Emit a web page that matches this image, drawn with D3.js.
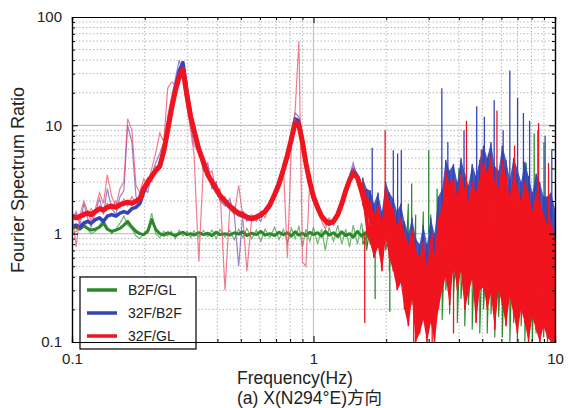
<!DOCTYPE html>
<html><head><meta charset="utf-8">
<script src="https://cdn.jsdelivr.net/npm/d3@7"></script>
<style>
body{margin:0;background:#fff;}
svg{display:block;}
text{font-family:"Liberation Sans",Arial,"Noto Sans CJK SC",sans-serif;fill:#222;}
</style>
</head><body>
<svg id="chart" width="568" height="408"></svg>
<script>
// ---------- DATA ----------
const seriesNames = ["B2F/GL", "32F/B2F", "32F/GL"];
const xTickValues = [0.1, 1, 10];
const xTickLabels = ["0.1", "1", "10"];
const yTickValues = [0.1, 1, 10, 100];
const yTickLabels = ["0.1", "1", "10", "100"];

// low-frequency region (smooth part)
const freqLo = [0.100,0.104,0.108,0.112,0.116,0.120,0.125,0.130,0.135,0.140,0.146,0.152,0.158,0.164,0.170,0.177,0.184,0.191,0.198,0.206,0.214,0.222,0.231,0.240,0.249,0.258,0.268,0.278,0.288,0.299,0.31,0.32,0.335,0.35,0.365,0.38,0.395,0.41,0.43,0.45,0.47,0.49,0.51,0.53,0.555,0.58,0.605,0.63,0.66,0.69,0.72,0.75,0.78,0.81,0.84,0.87,0.90,0.93,0.965,1.0,1.04,1.08,1.12,1.16,1.21,1.26,1.31,1.36,1.41,1.46,1.52,1.58,1.64,1.70];

const greenMain = [1.12,1.15,1.1,1.18,1.12,1.08,1.1,1.15,1.25,1.1,1.05,1.08,1.12,1.2,1.3,1.15,1.05,1.0,0.98,1.05,1.35,1.1,1.0,0.97,1.02,0.99,0.96,1.0,1.03,0.98,1.0,0.97,1.02,0.98,1.01,0.96,1.03,0.98,1.0,0.97,1.02,0.99,1.04,0.96,1.01,0.98,1.05,0.97,1.0,0.96,1.03,0.98,1.02,0.95,1.04,0.97,1.01,0.96,1.03,0.98,1.02,0.95,1.05,0.97,1.02,0.94,1.04,0.96,1.0,0.93,1.05,0.95,1.02,0.92];
const greenThin = [1.0,1.05,1.2,1.3,1.1,1.0,1.05,1.2,1.35,1.15,1.0,1.1,1.25,1.45,1.2,1.1,0.95,0.9,1.0,1.1,1.55,1.0,0.92,1.05,0.95,1.05,0.9,1.08,0.95,1.05,0.92,1.06,0.93,1.07,0.94,1.08,0.9,1.1,0.93,1.07,0.88,1.1,0.92,1.12,0.9,1.08,0.85,1.1,0.92,1.15,0.88,1.1,0.82,1.12,0.9,1.18,0.75,1.1,0.85,1.15,0.8,1.1,0.7,1.15,0.85,1.2,0.8,1.1,0.75,1.2,0.8,1.25,0.78,1.3];

const blueMain = [1.15,1.2,1.15,1.25,1.3,1.25,1.35,1.4,1.3,1.45,1.5,1.45,1.55,1.6,1.55,1.7,1.75,1.9,2.4,2.9,3.3,3.8,4.3,5.8,9,14,22,32,38,21,12.5,9,6.2,4.7,3.6,2.9,2.5,2.2,1.95,1.75,1.6,1.5,1.45,1.4,1.35,1.4,1.45,1.6,1.8,2.25,2.8,3.8,5.2,7.6,11.5,11,7.2,4.4,2.9,2.1,1.7,1.42,1.3,1.22,1.28,1.48,1.85,2.4,3.2,3.9,3.4,2.6,1.9,1.5];
const blueThin = [1.3,1.6,1.2,1.9,1.4,1.15,1.6,2.1,1.5,2.6,1.7,1.5,2.2,2.5,10,7,2.2,2.0,2.6,2.4,3.5,4.5,5.5,7,12,18,27,40,30,16,10,6.5,5.8,3.8,4.5,2.6,3.0,2.0,1.8,2.1,1.5,0.5,1.6,1.3,1.4,1.5,1.3,1.7,1.7,2.4,3.0,3.5,5.5,9,13,12,5.5,4.8,2.6,2.3,1.6,1.5,1.2,1.3,1.2,1.6,1.8,2.6,3.4,4.5,3.2,2.4,2.1,1.4];

const redMain = [1.45,1.4,1.45,1.5,1.55,1.5,1.6,1.7,1.65,1.75,1.8,1.75,1.85,1.9,1.95,1.9,2.0,2.1,2.6,3.0,3.4,3.8,4.2,5.8,9,14,21,28,33,19,12,9,6.0,4.6,3.5,3.0,2.6,2.25,2.0,1.8,1.65,1.55,1.5,1.42,1.38,1.42,1.5,1.6,1.85,2.3,2.9,3.9,5.3,7.5,10.5,10.0,7.0,4.5,3.0,2.2,1.75,1.45,1.32,1.25,1.3,1.5,1.9,2.5,3.1,3.6,3.3,2.5,1.8,1.4];
const redThin = [1.6,0.75,1.5,2.0,1.6,1.3,1.7,2.4,1.9,3.5,2.2,1.8,2.6,3.0,11.5,9,2.8,2.4,3.2,2.8,4.0,5.5,8.5,7.0,22,25,24,30,26,15,9,5.5,0.55,4.2,3.5,3.8,2.4,2.6,0.3,1.7,1.5,2.8,1.4,0.45,1.4,1.3,1.6,1.4,2.0,2.2,2.6,4.2,0.6,6.5,14,60,0.55,0.5,3.2,2.0,1.9,1.3,1.1,1.4,1.2,1.6,1.7,2.8,2.9,4.2,3.0,2.2,2.0,1.2];
const redThin2 = [1.3,1.5,1.35,1.6,1.45,1.7,1.5,1.8,1.6,1.9,1.7,2.0,1.75,2.1,1.8,2.2,1.9,2.3,2.8,3.3,3.0,4.2,4.0,6.5,8,16,18,31,30,22,13,10.5,6.8,4.2,3.9,2.7,2.9,2.1,2.2,1.7,1.8,1.45,1.6,1.35,1.5,1.35,1.6,1.5,2.0,2.1,3.2,3.6,5.8,7.0,11.5,9.0,7.8,4.0,3.3,2.0,1.9,1.35,1.4,1.2,1.35,1.4,2.0,2.3,3.3,3.4,3.5,2.3,1.9,1.3];

// high-frequency region (noisy part): upper / lower envelopes
const freqHi = [1.60,1.66,1.72,1.78,1.85,1.92,1.99,2.06,2.14,2.22,2.30,2.38,2.47,2.56,2.65,2.75,2.85,2.95,3.06,3.17,3.29,3.41,3.53,3.66,3.80,3.94,4.08,4.23,4.38,4.54,4.71,4.88,5.06,5.24,5.43,5.63,5.84,6.05,6.27,6.50,6.74,6.98,7.24,7.50,7.77,8.06,8.35,8.65,8.97,9.30,9.64,9.99];
const greenHi = [1.1,0.95,1.2,1.0,1.3,0.95,1.25,1.0,1.5,0.9,1.6,0.8,1.9,0.9,1.5,0.7,1.6,0.8,1.5,0.9,1.3,1.0,1.6,0.9,1.8,1.0,1.5,0.8,1.4,0.9,1.6,0.8,1.5,1.0,1.7,0.9,1.4,0.8,1.6,0.9,1.5,0.8,1.4,0.9,1.7,0.8,1.8,0.9,1.5,0.8,1.3,0.8];
const greenLo = [0.8,0.7,0.85,0.6,0.75,0.5,0.7,0.45,0.6,0.35,0.5,0.3,0.4,0.22,0.35,0.2,0.3,0.17,0.28,0.15,0.25,0.16,0.3,0.18,0.28,0.15,0.25,0.14,0.22,0.13,0.2,0.12,0.2,0.12,0.18,0.11,0.17,0.11,0.16,0.1,0.15,0.1,0.14,0.1,0.13,0.1,0.12,0.1,0.11,0.1,0.1,0.1];
const blueHi = [3.3,2.6,2.5,1.9,2.4,1.6,3.0,2.4,2.1,1.6,1.9,1.3,1.0,1.4,0.9,0.8,1.2,0.8,1.4,1.0,2.2,2.6,4.8,3.8,4.4,3.0,5.0,3.6,2.8,4.4,3.4,4.8,6.5,5.0,7.0,4.2,3.8,6.5,4.8,3.2,5.0,4.0,3.0,4.6,3.4,2.4,3.6,3.0,2.2,2.2,2.4,1.7];
const blueLo = [2.0,1.2,0.9,0.75,0.85,0.55,1.0,0.7,0.55,0.4,0.45,0.28,0.2,0.3,0.14,0.16,0.2,0.12,0.2,0.13,0.25,0.35,0.5,0.3,0.6,0.38,0.55,0.28,0.35,0.48,0.22,0.4,0.42,0.28,0.38,0.2,0.4,0.3,0.2,0.35,0.25,0.17,0.28,0.2,0.15,0.24,0.18,0.14,0.2,0.15,0.14,0.12];
const redHi = [3.0,2.2,2.0,1.5,1.8,1.3,2.6,2.0,1.7,1.2,1.4,1.0,0.8,1.1,0.7,0.6,0.85,0.5,0.9,0.65,1.4,1.8,3.8,2.9,3.2,2.2,3.6,2.6,2.0,3.0,2.4,3.3,4.6,3.6,5.2,3.0,2.6,4.8,3.4,2.2,3.4,2.8,2.0,3.0,2.4,1.6,2.4,2.0,1.5,1.2,1.3,0.9];
const redLo = [1.9,1.0,0.8,0.6,0.75,0.45,0.9,0.6,0.45,0.3,0.35,0.2,0.14,0.25,0.1,0.12,0.16,0.1,0.15,0.1,0.2,0.3,0.4,0.22,0.5,0.3,0.45,0.2,0.28,0.38,0.15,0.3,0.32,0.2,0.28,0.13,0.3,0.22,0.14,0.26,0.18,0.12,0.2,0.15,0.1,0.17,0.13,0.1,0.14,0.11,0.1,0.1];

// isolated spikes in the noisy part
const greenSpikeF = [1.80,2.07,2.55,3.00,3.25,4.00,4.60,5.30,6.20,7.60,8.20,9.00];
const greenSpikeV = [0.25,0.19,2.9,5.9,2.6,4.0,3.0,5.5,3.2,4.5,8.4,7.0];
const blueSpikeF = [1.75,2.14,2.23,2.31,3.40,3.60,4.20,4.74,5.10,5.60,6.10,6.50,7.00,7.40,7.85,8.50,9.10,9.70];
const blueSpikeV = [6.2,5.9,5.5,5.9,22,7,9,15,12,17,9,32,18,13,11,9,8,6];
const redSpikeF = [1.63,1.98,2.60,3.10,3.80,4.30,4.95,5.75,6.80,8.55,9.40];
const redSpikeV = [0.15,9,0.1,0.1,0.12,11,6,13.7,6.5,10.5,4.5];

// ---------- CHART ----------
const m = {left:72, right:555, top:17, bottom:342};
const colors = {green:"#2a8a2a", blue:"#3345b5", red:"#f0141e",
  greenThin:"rgba(60,150,60,0.7)", blueThin:"rgba(100,60,190,0.65)", redThin:"rgba(235,70,95,0.7)"};

const svg = d3.select("#chart");
const x = d3.scaleLog().domain([0.1,10]).range([m.left,m.right]);
const y = d3.scaleLog().domain([0.1,100]).range([m.bottom,m.top]);

const allX = x.ticks(), allY = y.ticks();
const isMajor = v => Math.abs(Math.log10(v) - Math.round(Math.log10(v))) < 1e-6;
const minorX = allX.filter(v=>!isMajor(v)), minorY = allY.filter(v=>!isMajor(v));

// grid
const grid = svg.append("g");
grid.selectAll("line.vx").data(minorX).join("line")
  .attr("x1",d=>x(d)).attr("x2",d=>x(d)).attr("y1",m.top).attr("y2",m.bottom)
  .attr("stroke","#b8b8b8").attr("stroke-width",1).attr("stroke-dasharray","1.5,2");
grid.selectAll("line.hy").data(minorY).join("line")
  .attr("y1",d=>y(d)).attr("y2",d=>y(d)).attr("x1",m.left).attr("x2",m.right)
  .attr("stroke","#b8b8b8").attr("stroke-width",1).attr("stroke-dasharray","1.5,2");
grid.selectAll("line.mx").data(xTickValues.slice(1,-1)).join("line")
  .attr("x1",d=>x(d)).attr("x2",d=>x(d)).attr("y1",m.top).attr("y2",m.bottom)
  .attr("stroke","#c4c4c4").attr("stroke-width",1.2);
grid.selectAll("line.my").data(yTickValues.slice(1,-1)).join("line")
  .attr("y1",d=>y(d)).attr("y2",d=>y(d)).attr("x1",m.left).attr("x2",m.right)
  .attr("stroke","#c4c4c4").attr("stroke-width",1.2);

// clip
svg.append("clipPath").attr("id","clip").append("rect")
  .attr("x",m.left).attr("y",m.top).attr("width",m.right-m.left).attr("height",m.bottom-m.top);
const plot = svg.append("g").attr("clip-path","url(#clip)");

const line = d3.line().x(d=>x(d[0])).y(d=>y(d[1]));
const zip = (fs, vs) => fs.map((f,i)=>[f, vs[i]]);
const zig = (fs, hi, lo) => fs.flatMap((f,i)=>[[f,hi[i]],[f,lo[i]]]);
const area = d3.area().x(d=>x(d[0])).y0(d=>y(d[2])).y1(d=>y(d[1]));

function drawSeries(thinList, mainVals, hi, lo, spF, spV, cMain, cThin, wMain, fillOpacity, zigW){
  const g = plot.append("g");
  if (fillOpacity > 0) {
    g.append("path").datum(freqHi.map((f,i)=>[f,hi[i],lo[i]]))
      .attr("d",area).attr("fill",cMain).attr("opacity",fillOpacity);
  }
  g.append("path").datum(zig(freqHi,hi,lo)).attr("d",line)
    .attr("fill","none").attr("stroke",cMain).attr("stroke-width",zigW);
  g.selectAll("line.sp").data(spF.map((f,i)=>[f,spV[i]])).join("line")
    .attr("x1",d=>x(d[0])).attr("x2",d=>x(d[0])).attr("y1",y(1)).attr("y2",d=>y(d[1]))
    .attr("stroke",cMain).attr("stroke-width",1.3);
  thinList.forEach(vals=>{
    g.append("path").datum(zip(freqLo,vals)).attr("d",line)
      .attr("fill","none").attr("stroke",cThin).attr("stroke-width",1.2);
  });
  g.append("path").datum(zip(freqLo,mainVals)).attr("d",line)
    .attr("fill","none").attr("stroke",cMain).attr("stroke-width",wMain).attr("stroke-linejoin","round");
}
drawSeries([greenThin], greenMain, greenHi, greenLo, greenSpikeF, greenSpikeV, colors.green, colors.greenThin, 3, 0, 1.1);
drawSeries([blueThin], blueMain, blueHi, blueLo, blueSpikeF, blueSpikeV, colors.blue, colors.blueThin, 3.5, 0.9, 1.3);
drawSeries([redThin, redThin2], redMain, redHi, redLo, redSpikeF, redSpikeV, colors.red, colors.redThin, 5, 1, 1.6);

// axes (ticks pointing inward)
const fmtX = d => xTickLabels[xTickValues.indexOf(d)] || "";
const fmtY = d => yTickLabels[yTickValues.indexOf(d)] || "";
function styleAxis(g){ g.select(".domain").attr("stroke","#000").attr("stroke-width",1.2);
  g.selectAll(".tick line").attr("stroke","#000"); }
svg.append("g").attr("transform",`translate(0,${m.bottom})`)
  .call(d3.axisBottom(x).tickValues(minorX).tickSize(-3).tickFormat("")).call(styleAxis);
svg.append("g").attr("transform",`translate(0,${m.top})`)
  .call(d3.axisTop(x).tickValues(minorX).tickSize(-3).tickFormat("")).call(styleAxis);
svg.append("g").attr("transform",`translate(${m.left},0)`)
  .call(d3.axisLeft(y).tickValues(minorY).tickSize(-3).tickFormat("")).call(styleAxis);
svg.append("g").attr("transform",`translate(${m.right},0)`)
  .call(d3.axisRight(y).tickValues(minorY).tickSize(-3).tickFormat("")).call(styleAxis);
svg.append("g").attr("transform",`translate(0,${m.top})`)
  .call(d3.axisTop(x).tickValues(xTickValues).tickSize(-6).tickFormat("")).call(styleAxis);
svg.append("g").attr("transform",`translate(${m.right},0)`)
  .call(d3.axisRight(y).tickValues(yTickValues).tickSize(-6).tickFormat("")).call(styleAxis);

// legend
const lg = svg.append("g");
lg.append("rect").attr("x",80).attr("y",277).attr("width",116).attr("height",72)
  .attr("fill","#fff").attr("stroke","#000").attr("stroke-width",1.2);
const lgColors = [colors.green, colors.blue, colors.red];
seriesNames.forEach((n,i)=>{
  const yy = 290 + i*23;
  lg.append("line").attr("x1",87).attr("x2",117).attr("y1",yy).attr("y2",yy)
    .attr("stroke",lgColors[i]).attr("stroke-width",3.5);
  lg.append("text").attr("x",128).attr("y",yy+5).attr("font-size",14).text(n);
});

const gx = svg.append("g").attr("transform",`translate(0,${m.bottom})`)
  .call(d3.axisBottom(x).tickValues(xTickValues).tickSize(-6).tickPadding(11).tickFormat(fmtX)).call(styleAxis);
gx.selectAll("text").attr("font-size",15).attr("fill","#222").attr("font-family","Liberation Sans, Arial");
const gy = svg.append("g").attr("transform",`translate(${m.left},0)`)
  .call(d3.axisLeft(y).tickValues(yTickValues).tickSize(-6).tickPadding(10).tickFormat(fmtY)).call(styleAxis);
gy.selectAll("text").attr("font-size",15).attr("fill","#222").attr("font-family","Liberation Sans, Arial");

// titles
svg.append("text").attr("transform","translate(24,180) rotate(-90)")
  .attr("text-anchor","middle").attr("font-size",18).text("Fourier Spectrum Ratio");
svg.append("text").attr("x",237).attr("y",384).attr("font-size",17.5).text("Frequency(Hz)");
svg.append("text").attr("x",237).attr("y",404).attr("font-size",17.5).text("(a) X(N294°E)方向");
</script>
</body></html>
